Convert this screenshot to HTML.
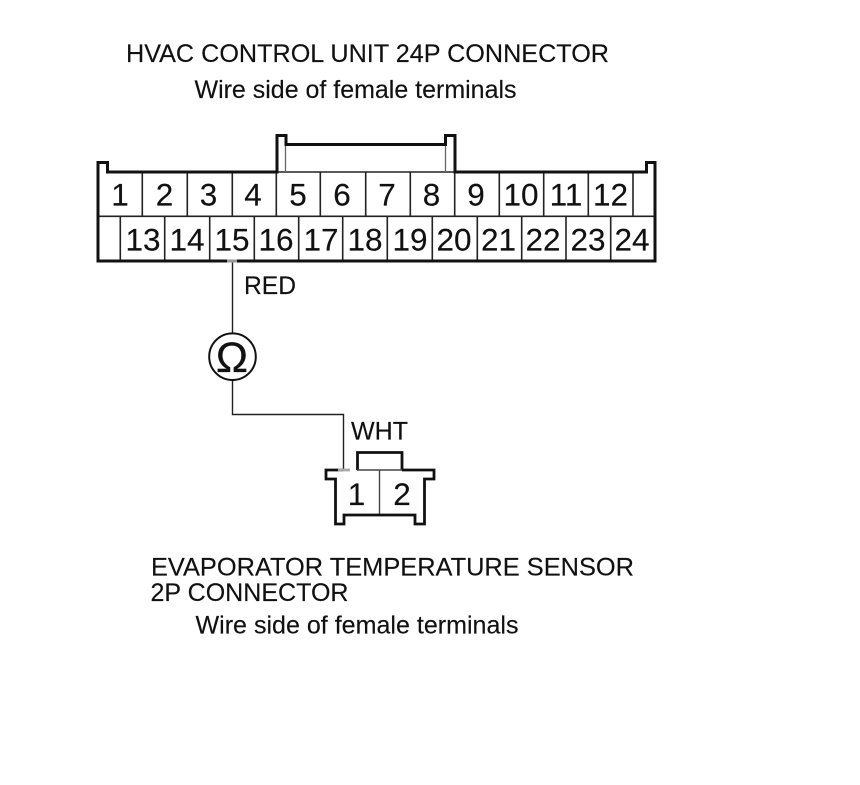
<!DOCTYPE html>
<html>
<head>
<meta charset="utf-8">
<style>
html,body{margin:0;padding:0;background:#fff;}
svg{display:block;}
text{font-family:"Liberation Sans",sans-serif;fill:#111;}
.t{font-size:25px;stroke:#111;stroke-width:.15px;}
.n{font-size:31.500px;text-anchor:middle;stroke:#111;stroke-width:.15px;}
</style>
</head>
<body>
<svg width="860" height="785" viewBox="0 0 860 785" xmlns="http://www.w3.org/2000/svg">
<rect width="860" height="785" fill="#fff"/>
<text class="t" x="126" y="62" textLength="483" lengthAdjust="spacingAndGlyphs">HVAC CONTROL UNIT 24P CONNECTOR</text>
<text class="t" x="194.500" y="98" textLength="322" lengthAdjust="spacingAndGlyphs">Wire side of female terminals</text>

<!-- dividers -->
<g stroke="#222" stroke-width="1.600" fill="none">
<path d="M142.300 172V216M187.300 172V216M232.300 172V216M276.300 172V216M320.300 172V216M365.700 172V216M410.300 172V216M454.700 172V216M499.300 172V216M543.700 172V216M588.300 172V216M633 172V216"/>
<path d="M120.300 216V261M164.700 216V261M209.700 216V261M254.300 216V261M298.700 216V261M342.700 216V261M387.300 216V261M432.300 216V261M477.300 216V261M521.700 216V261M566 216V261M610.700 216V261"/>
<path d="M98 216.300H655"/>
<path d="M277 172H455"/>
<path d="M285.500 145V172M445.500 145V172" stroke="#666" stroke-width="1.300"/>
</g>

<!-- outer -->
<g stroke="#111" stroke-width="3" fill="none">
<path d="M107.500 172V162.500H98V261H655V162.500H646.500V172H455V135.500H445.500V144.500H286V135.500H277V172Z" stroke-linejoin="miter"/>
</g>

<!-- numbers -->
<g class="nums">
<text class="n" x="120" y="205.500">1</text>
<text class="n" x="164.500" y="205.500">2</text>
<text class="n" x="208.500" y="205.500">3</text>
<text class="n" x="253" y="205.500">4</text>
<text class="n" x="298" y="205.500">5</text>
<text class="n" x="342" y="205.500">6</text>
<text class="n" x="387" y="205.500">7</text>
<text class="n" x="431.500" y="205.500">8</text>
<text class="n" x="476" y="205.500">9</text>
<text class="n" x="521" y="205.500">10</text>
<text class="n" x="566" y="205.500">11</text>
<text class="n" x="610.500" y="205.500">12</text>
<text class="n" x="143" y="250.500">13</text>
<text class="n" x="187" y="250.500">14</text>
<text class="n" x="232" y="250.500">15</text>
<text class="n" x="276" y="250.500">16</text>
<text class="n" x="321" y="250.500">17</text>
<text class="n" x="365" y="250.500">18</text>
<text class="n" x="410" y="250.500">19</text>
<text class="n" x="454" y="250.500">20</text>
<text class="n" x="498.500" y="250.500">21</text>
<text class="n" x="543" y="250.500">22</text>
<text class="n" x="588" y="250.500">23</text>
<text class="n" x="632" y="250.500">24</text>
</g>

<!-- wire -->
<path d="M227 261H237" stroke="#999" stroke-width="3"/>
<path d="M232.500 262.500V333M232.500 380V414.500H343.500V470" stroke="#222" stroke-width="1.400" fill="none"/>
<text class="t" x="244" y="294" textLength="52" lengthAdjust="spacingAndGlyphs">RED</text>
<text class="t" x="351" y="439.500" textLength="57" lengthAdjust="spacingAndGlyphs">WHT</text>

<!-- ohm -->
<circle cx="232.500" cy="356.700" r="23.300" fill="#fff" stroke="#111" stroke-width="2"/>
<text x="232" y="372" font-size="43" text-anchor="middle" stroke="#111" stroke-width=".3">Ω</text>

<!-- small connector -->
<path d="M357.500 470V452.500H402V470" fill="none" stroke="#111" stroke-width="2.800"/>
<path d="M379.500 470V515M357 470H402" fill="none" stroke="#444" stroke-width="1.400"/>
<path d="M343 470H326V479H335.500V524H344V515H415V524H424.500V479H434V470H402" fill="none" stroke="#111" stroke-width="2.800"/>
<path d="M338 470H350" stroke="#aaa" stroke-width="2.800"/>
<text class="n" x="356.500" y="505">1</text>
<text class="n" x="402" y="505">2</text>

<text class="t" x="151" y="575.700" textLength="483" lengthAdjust="spacingAndGlyphs">EVAPORATOR TEMPERATURE SENSOR</text>
<text class="t" x="150.500" y="601" textLength="198" lengthAdjust="spacingAndGlyphs">2P CONNECTOR</text>
<text class="t" x="195.500" y="633.500" textLength="323" lengthAdjust="spacingAndGlyphs">Wire side of female terminals</text>
</svg>
</body>
</html>
